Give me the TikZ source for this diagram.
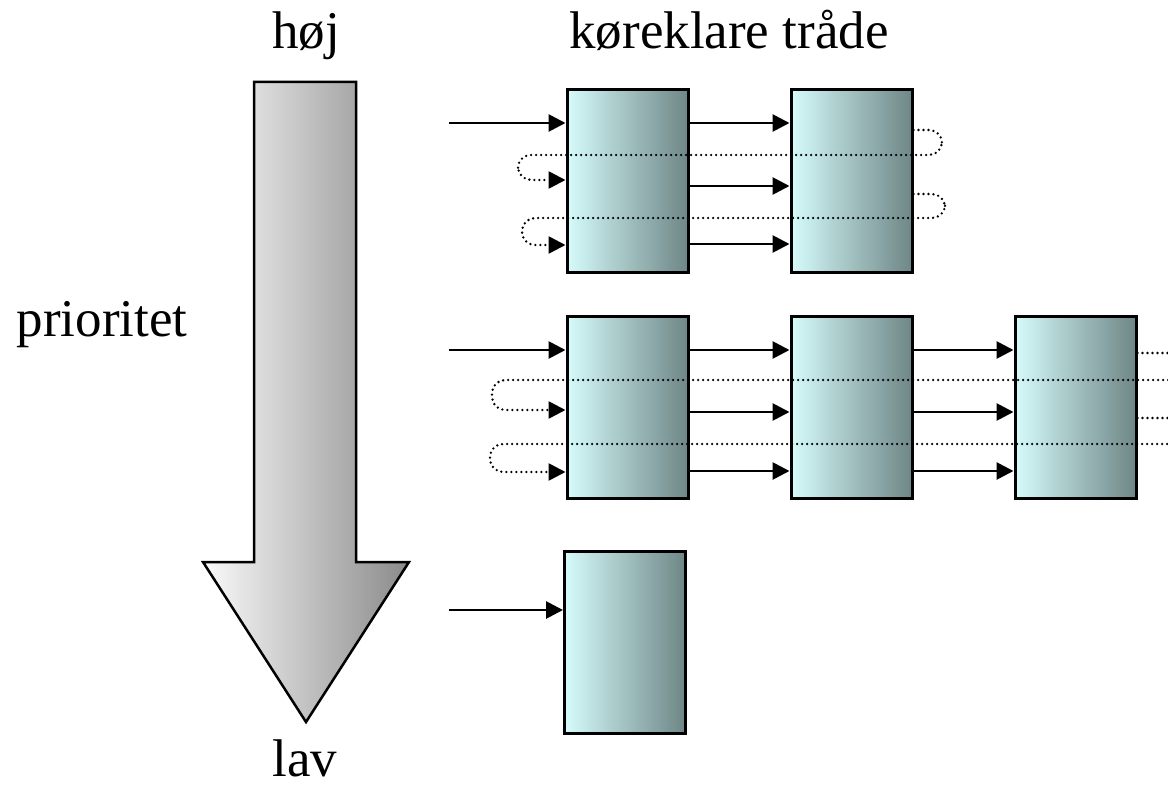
\documentclass[tikz,border=0pt]{standalone}
\usepackage{fontspec}
\setmainfont{Liberation Serif}
\usetikzlibrary{arrows.meta}
\definecolor{boxL}{RGB}{214,251,251}
\definecolor{boxR}{RGB}{110,134,134}
\definecolor{prioL}{RGB}{250,250,250}
\definecolor{prioR}{RGB}{138,138,138}
\begin{document}
\begin{tikzpicture}[x=1pt,y=-1pt,
  thread/.style={draw, line width=3pt, left color=boxL, right color=boxR,
    minimum width=121pt, minimum height=182pt, inner sep=0pt},
  label/.style={font=\fontsize{53}{64}\selectfont, anchor=base, inner sep=0pt},
  link/.style={line width=2.8pt, -{Triangle[length=17pt,width=17pt]}},
  loop/.style={line width=2.6pt, line cap=round, dash pattern=on 0pt off 5pt,
    rounded corners=13pt, -{Triangle[length=17pt,width=17pt]}}]
\useasboundingbox (0,0) rectangle (1168,789);
\clip (0,0) rectangle (1168,789);

% priority arrow
\draw[line width=2.5pt, line join=miter, left color=prioL, right color=prioR]
  (254,82) -- (356,82) -- (356,562) -- (409,562) -- (306,722)
  -- (203,562) -- (254,562) -- cycle;

% labels
\node[label] (hoj) at (306,49) {høj};
\node[label] (lav) at (305,776) {lav};
\node[label] (prio) at (102,336) {prioritet};
\node[label] (title) at (729,49) {køreklare tråde};

% ready queues
\node[thread] (b11) at (627.5,181) {};
\node[thread] (b12) at (851.5,181) {};
\node[thread] (b21) at (627.5,407) {};
\node[thread] (b22) at (851.5,407) {};
\node[thread] (b23) at (1075.5,407) {};
\node[thread] (b31) at (625,642.5) {};

% queue heads
\coordinate (in1) at (449,123);
\coordinate (in2) at (449,350);
\coordinate (in3) at (449,610);
\draw[link] (in1) -- (b11.west |- in1);
\draw[link] (in2) -- (b21.west |- in2);
\draw[link] (in3) -- (b31.west |- in3);

% row 1 links
\foreach \y in {123,186,244}
  \draw[link] (b11.east |- 0,\y) -- (b12.west |- 0,\y);
\draw[loop] (b12.east |- 0,130) -- (942,130) -- (942,155) -- (518,155)
  -- (518,180) -- (b11.west |- 0,180);
\draw[loop] (b12.east |- 0,194) -- (945,194) -- (945,218) -- (522,218)
  -- (522,245) -- (b11.west |- 0,245);

% row 2 links
\foreach \y in {350,412,471}{
  \draw[link] (b21.east |- 0,\y) -- (b22.west |- 0,\y);
  \draw[link] (b22.east |- 0,\y) -- (b23.west |- 0,\y);
}
\draw[loop] (b23.east |- 0,353) -- (1190,353) -- (1190,380) -- (492,380)
  -- (492,410) -- (b21.west |- 0,410);
\draw[loop] (b23.east |- 0,418) -- (1190,418) -- (1190,444) -- (490,444)
  -- (490,472) -- (b21.west |- 0,472);
\end{tikzpicture}
\end{document}
